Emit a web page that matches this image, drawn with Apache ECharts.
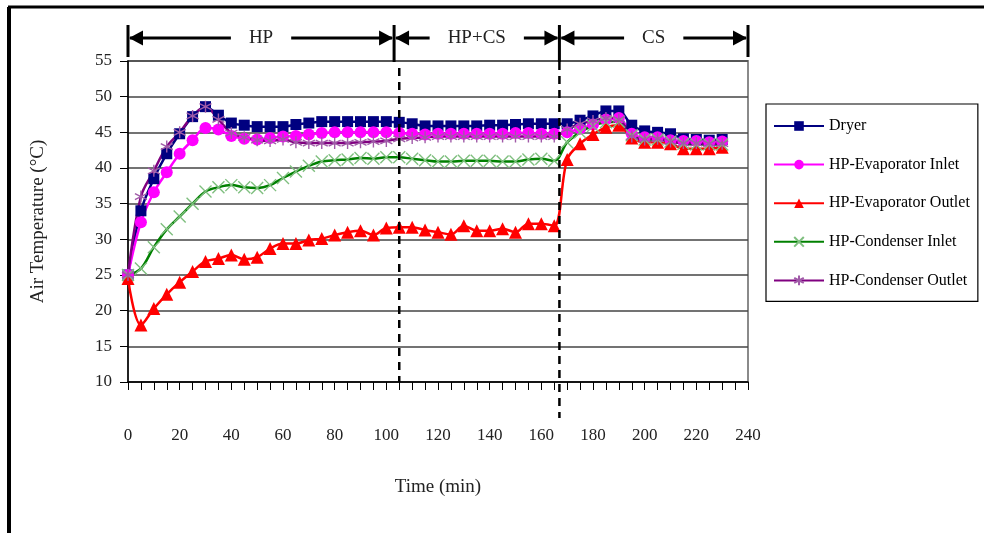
<!DOCTYPE html>
<html><head><meta charset="utf-8">
<script src="https://cdn.jsdelivr.net/npm/echarts@6/dist/echarts.min.js"></script>
<style>html,body{margin:0;padding:0;background:#fff}#c{width:984px;height:533px}</style>
</head><body><div id="c"></div>
<script>
// ---- data ----
const times = [0,5,10,15,20,25,30,35,40,45,50,55,60,65,70,75,80,85,90,95,100,105,110,115,120,125,130,135,140,145,150,155,160,165,170,175,180,185,190,195,200,205,210,215,220,225,230];
const dryer = [25.0,34.0,38.5,42.0,44.8,47.2,48.6,47.4,46.3,46.0,45.8,45.8,45.8,46.1,46.3,46.5,46.5,46.5,46.5,46.5,46.5,46.4,46.2,45.9,45.9,45.9,45.9,45.9,46.0,46.0,46.1,46.2,46.2,46.2,46.2,46.7,47.3,48.0,48.0,46.0,45.2,45.0,44.8,44.1,44.0,43.9,44.0];
const evapIn = [25.0,32.4,36.6,39.4,42.0,43.9,45.6,45.4,44.5,44.1,44.0,44.2,44.4,44.5,44.7,44.9,45.0,45.0,45.0,45.0,45.0,44.9,44.8,44.7,44.8,44.8,44.8,44.8,44.8,44.8,44.9,44.9,44.8,44.8,45.0,45.5,46.1,46.8,47.0,44.8,44.3,44.3,43.9,43.8,43.8,43.6,43.7];
const evapOut = [24.5,18.0,20.3,22.3,24.0,25.5,26.9,27.3,27.8,27.2,27.5,28.7,29.4,29.4,29.9,30.1,30.6,31.0,31.2,30.6,31.6,31.7,31.7,31.3,31.0,30.7,31.9,31.2,31.2,31.5,31.0,32.2,32.2,31.9,41.2,43.4,44.7,45.7,46.0,44.2,43.6,43.6,43.4,42.7,42.7,42.7,42.9];
const condIn = [25.0,25.9,28.9,31.4,33.2,35.0,36.7,37.3,37.6,37.3,37.2,37.6,38.6,39.5,40.3,40.9,41.1,41.2,41.4,41.3,41.5,41.5,41.3,41.1,40.9,40.9,41.0,41.0,41.0,40.9,40.9,41.2,41.3,41.0,43.6,45.0,45.9,46.4,46.5,44.6,44.0,44.0,43.7,43.4,43.3,43.3,43.3];
const condOut = [25.0,36.0,39.6,43.0,45.0,47.3,48.6,46.8,44.9,44.3,43.9,43.8,44.0,43.6,43.5,43.5,43.5,43.5,43.6,43.7,43.8,44.1,44.2,44.3,44.4,44.4,44.4,44.4,44.4,44.4,44.4,44.4,44.4,44.4,45.4,46.2,46.6,47.0,46.8,44.4,44.0,44.1,43.7,43.5,43.5,43.4,43.4];
const seriesNames = ['Dryer','HP-Evaporator Inlet','HP-Evaporator Outlet','HP-Condenser Inlet','HP-Condenser Outlet'];
const xTicks = [0,20,40,60,80,100,120,140,160,180,200,220,240];
const yTicks = [10,15,20,25,30,35,40,45,50,55];
const phaseNames = ['HP','HP+CS','CS'];
const phaseBounds = [0,103,167,240];
const dashedAt = [105,167];

const SERIF = '"Liberation Serif","DejaVu Serif",serif';
const pair = arr => times.map((t,i)=>[t,arr[i]]);

const chart = echarts.init(document.getElementById('c'), null, {renderer:'canvas'});

function mk(name, data, lineColor, symbol, size, fill, stroke, bw){
  return {
    name, type:'line', data: pair(data), smooth:0.35,
    symbol, symbolSize:size, showAllSymbol:true,
    lineStyle:{color:lineColor,width:2.5},
    itemStyle:{color:fill,borderColor:stroke,borderWidth:bw},
    emphasis:{disabled:true}, animation:false
  };
}

const option = {
  animation:false,
  backgroundColor:'#fff',
  grid:{left:128,top:61,right:236,bottom:151,show:true,borderColor:'#8a8a8a',borderWidth:2,backgroundColor:'transparent'},
  xAxis:{
    type:'value', min:xTicks[0], max:xTicks[xTicks.length-1], interval:20,
    name:'Time (min)', nameLocation:'middle', nameGap:96,
    nameTextStyle:{fontFamily:SERIF,fontSize:19,color:'#222'},
    axisLine:{lineStyle:{color:'#000',width:1.5}},
    axisTick:{show:true,length:8,lineStyle:{color:'#000',width:1}},
    minorTick:{show:true,splitNumber:4,length:8,lineStyle:{color:'#000',width:1}},
    axisLabel:{margin:45,fontFamily:SERIF,fontSize:17,color:'#222'},
    splitLine:{show:false}
  },
  yAxis:{
    type:'value', min:yTicks[0], max:yTicks[yTicks.length-1], interval:5,
    name:'Air Temperature (°C)', nameLocation:'middle', nameGap:80,
    nameTextStyle:{fontFamily:SERIF,fontSize:19,color:'#222'},
    axisLine:{show:true,lineStyle:{color:'#000',width:1.5}},
    axisTick:{show:true,length:8,lineStyle:{color:'#000',width:1}},
    axisLabel:{margin:16,fontFamily:SERIF,fontSize:17,color:'#222'},
    splitLine:{show:true,lineStyle:{color:'#444',width:1.5}}
  },
  legend:{
    orient:'vertical', left:766, top:104,
    itemWidth:50, itemHeight:12, itemGap:22.6,
    padding:[14,8,13,7],
    borderColor:'#000', borderWidth:1.2, backgroundColor:'#fff',
    textStyle:{fontFamily:SERIF,fontSize:16,color:'#000'},
    data:seriesNames
  },
  series:[
    mk(seriesNames[0], dryer, '#000080','rect',11,'#000080','#000080',0),
    mk(seriesNames[1], evapIn, '#ff00ff','circle',12,'#ff00ff','#ff00ff',0),
    mk(seriesNames[2], evapOut, '#ff0000','triangle',13,'#ff0000','#ff0000',0),
    mk(seriesNames[3], condIn, '#008000','path://M0,0L10,10M10,0L0,10',12,'rgba(0,0,0,0)','#7fbf7f',1.4),
    mk(seriesNames[4], condOut, '#800080','path://M5,0L5,10M0.7,2.5L9.3,7.5M9.3,2.5L0.7,7.5',12,'rgba(0,0,0,0)','#a05aa8',1.4)
  ]
};
chart.setOption(option);

// ---- annotations (phase arrows, dashed separators, frame) ----
const px = v => chart.convertToPixel({xAxisIndex:0}, v);
const py = v => chart.convertToPixel({yAxisIndex:0}, v);
const gTop = py(yTicks[yTicks.length-1]), gBot = py(yTicks[0]);
const ctx = document.createElement('canvas').getContext('2d');
const PF = '19px ' + SERIF;
ctx.font = PF;
const arrowY = 38, ah = 14, aw = 7.5;
const g = [];
const blk = {stroke:'#000',lineWidth:3};
// frame
g.push({type:'line',shape:{x1:8,y1:7,x2:984,y2:7},style:{stroke:'#000',lineWidth:3},silent:true});
g.push({type:'line',shape:{x1:9,y1:7,x2:9,y2:533},style:{stroke:'#000',lineWidth:4},silent:true});
phaseNames.forEach((nm,i)=>{
  const x1 = px(phaseBounds[i]), x2 = px(phaseBounds[i+1]);
  const cx = (x1+x2)/2;
  const half = ctx.measureText(nm).width/2 + 18;
  g.push({type:'line',shape:{x1:x1+2,y1:arrowY,x2:cx-half,y2:arrowY},style:blk,silent:true});
  g.push({type:'line',shape:{x1:cx+half,y1:arrowY,x2:x2-2,y2:arrowY},style:blk,silent:true});
  g.push({type:'polygon',shape:{points:[[x1+1,arrowY],[x1+1+ah,arrowY-aw],[x1+1+ah,arrowY+aw]]},style:{fill:'#000'},silent:true});
  g.push({type:'polygon',shape:{points:[[x2-1,arrowY],[x2-1-ah,arrowY-aw],[x2-1-ah,arrowY+aw]]},style:{fill:'#000'},silent:true});
  g.push({type:'text',x:cx,y:arrowY,style:{text:nm,font:PF,fill:'#222',align:'center',verticalAlign:'middle'},silent:true});
});
phaseBounds.forEach((b,i)=>{
  const x = px(b);
  const yEnd = (i===0||i===phaseBounds.length-1) ? gTop-4 : gTop+1;
  g.push({type:'line',shape:{x1:x,y1:25,x2:x,y2:yEnd},style:{stroke:'#000',lineWidth:3},silent:true});
});
dashedAt.forEach((d,i)=>{
  const x = px(d);
  g.push({type:'line',shape:{x1:x,y1:gTop+(i===0?7:1),x2:x,y2:i===0?gBot:gBot+36},style:{stroke:'#000',lineWidth:2.5,lineDash:[8,6]},z:100,silent:true});
});
chart.setOption({graphic:g});
</script></body></html>
